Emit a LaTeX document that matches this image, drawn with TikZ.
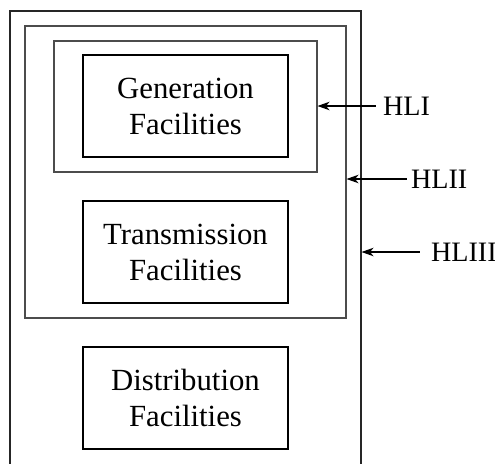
\documentclass[tikz,border=0pt]{standalone}
\usepackage{fontspec}
\setmainfont{Liberation Serif}
\usepackage{tikz}
\usetikzlibrary{arrows.meta}

\tikzset{
  facility/.style={rectangle, draw, line width=1.2pt, minimum width=4.1cm, minimum height=2.04cm,
    align=center, font=\fontsize{17.5}{20.5}\selectfont},
  level/.style={rectangle, draw=black!70, line width=0.6pt},
  tag/.style={anchor=west, inner sep=1pt, font=\fontsize{16}{18}\selectfont},
  pointer/.style={line width=0.6pt, {Stealth[length=0.24cm, width=0.17cm, inset=0.07cm]}-}
}

\begin{document}
\begin{tikzpicture}
\path[use as bounding box, clip] (0,0) rectangle (9.9,-9.26);

\node[level, draw=black!85, minimum width=7.02cm, minimum height=9.6cm] (hlthree) at (3.71,-5.02) {};
\node[level, minimum width=6.42cm, minimum height=5.84cm] (hltwo) at (3.71,-3.44) {};
\node[level, minimum width=5.26cm, minimum height=2.62cm] (hlone) at (3.71,-2.13) {};

\node[facility] (gen) at (3.71,-2.12) {Generation\\Facilities};
\node[facility] (trans) at (3.71,-5.04) {Transmission\\Facilities};
\node[facility] (dist) at (3.71,-7.96) {Distribution\\Facilities};

\node[tag] (lone) at (7.62,-2.12) {HLI};
\node[tag] (ltwo) at (8.18,-3.58) {HLII};
\node[tag] (lthree) at (8.58,-5.04) {HLIII};

\draw[pointer] (lone.west -| hlone.east) -- ([xshift=-3pt]lone.west);
\draw[pointer] (ltwo.west -| hltwo.east) -- ([xshift=-1pt]ltwo.west);
\draw[pointer] (lthree.west -| hlthree.east) -- ([xshift=-5pt]lthree.west);
\end{tikzpicture}
\end{document}
